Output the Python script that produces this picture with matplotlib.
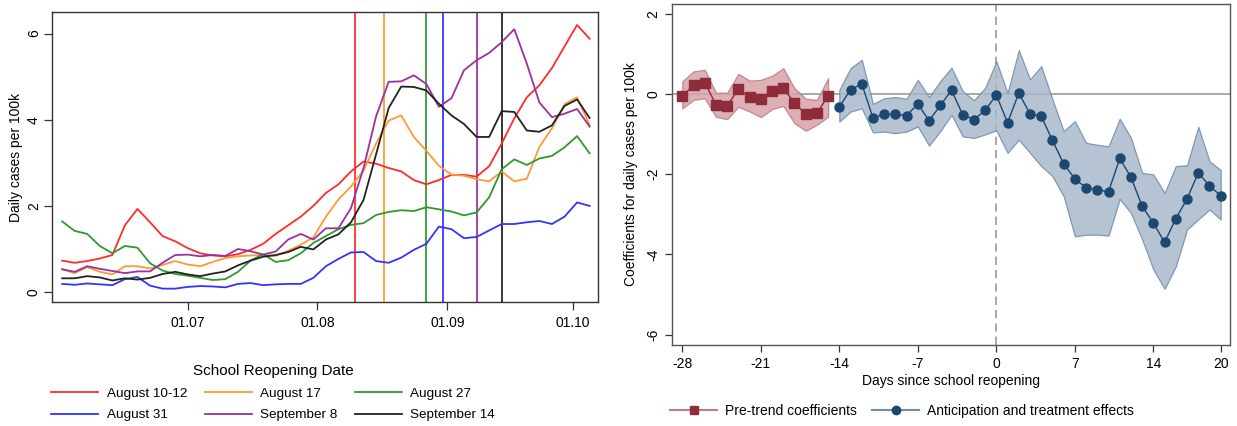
import pandas as pd
import matplotlib
matplotlib.use("Agg")
import matplotlib.pyplot as plt
import matplotlib.dates as mdates
from matplotlib.lines import Line2D

plt.rcParams["font.family"] = ["Liberation Sans", "DejaVu Sans"]
plt.rcParams["font.size"] = 10

# --- left panel: daily cases by reopening cohort (every third day from 1 June) ---
dates = pd.date_range("2020-06-01", periods=43, freq="3D")

cases_aug10 = [0.73, 0.68, 0.72, 0.78, 0.86, 1.55, 1.93, 1.62, 1.30, 1.18, 1.02, 0.90, 0.85, 0.83,
               0.88, 0.98, 1.12, 1.35, 1.55, 1.75, 2.00, 2.30, 2.50, 2.80, 3.03, 2.98, 2.88, 2.80,
               2.60, 2.50, 2.60, 2.72, 2.72, 2.68, 2.92, 3.45, 4.03, 4.52, 4.80, 5.20, 5.70, 6.20, 5.88]
cases_aug17 = [0.53, 0.44, 0.58, 0.47, 0.41, 0.60, 0.60, 0.55, 0.63, 0.72, 0.64, 0.60, 0.70, 0.79,
               0.83, 0.85, 0.86, 0.84, 0.96, 1.10, 1.27, 1.75, 2.15, 2.45, 2.82, 3.45, 3.98, 4.10,
               3.60, 3.28, 2.93, 2.73, 2.70, 2.62, 2.57, 2.80, 2.57, 2.63, 3.37, 3.80, 4.36, 4.52, 3.88]
cases_aug27 = [1.64, 1.42, 1.35, 1.07, 0.90, 1.07, 1.03, 0.67, 0.50, 0.42, 0.38, 0.33, 0.28, 0.30,
               0.47, 0.73, 0.88, 0.70, 0.74, 0.90, 1.14, 1.30, 1.46, 1.56, 1.60, 1.79, 1.86, 1.90,
               1.88, 1.97, 1.92, 1.87, 1.78, 1.85, 2.20, 2.85, 3.08, 2.95, 3.10, 3.16, 3.36, 3.62, 3.22]
cases_aug31 = [0.19, 0.17, 0.20, 0.18, 0.16, 0.30, 0.35, 0.15, 0.08, 0.08, 0.12, 0.14, 0.13, 0.11,
               0.19, 0.21, 0.16, 0.18, 0.19, 0.19, 0.33, 0.60, 0.77, 0.92, 0.93, 0.72, 0.68, 0.80,
               0.98, 1.12, 1.52, 1.46, 1.25, 1.28, 1.43, 1.58, 1.58, 1.62, 1.65, 1.58, 1.75, 2.08, 2.00]
cases_sep8 = [0.53, 0.47, 0.60, 0.54, 0.49, 0.44, 0.48, 0.48, 0.68, 0.86, 0.87, 0.83, 0.86, 0.84,
              1.00, 0.95, 0.87, 0.94, 1.22, 1.35, 1.22, 1.48, 1.48, 1.95, 2.88, 4.08, 4.88, 4.89,
              5.03, 4.83, 4.30, 4.50, 5.15, 5.38, 5.55, 5.80, 6.10, 5.30, 4.40, 4.06, 4.14, 4.25, 3.84]
cases_sep14 = [0.32, 0.32, 0.37, 0.34, 0.27, 0.32, 0.29, 0.33, 0.42, 0.47, 0.41, 0.37, 0.43, 0.48,
               0.62, 0.73, 0.82, 0.86, 0.93, 1.05, 0.99, 1.22, 1.34, 1.62, 2.14, 3.20, 4.27, 4.77,
               4.76, 4.68, 4.37, 4.10, 3.90, 3.60, 3.60, 4.20, 4.18, 3.75, 3.72, 3.87, 4.32, 4.47, 4.04]

cohort_labels = ["August 10-12", "August 17", "August 27", "August 31", "September 8", "September 14"]
reopen_dates = ["2020-08-10", "2020-08-17", "2020-08-27", "2020-08-31", "2020-09-08", "2020-09-14"]
cohort_colors = ["#ff2b2b", "#ff9a33", "#2e9a2e", "#3333ff", "#9b30a0", "#222222"]

# --- right panel: event-study coefficients ---
pre_days = [-28, -27, -26, -25, -24, -23, -22, -21, -20, -19, -18, -17, -16, -15]
pre_coef = [-0.05, 0.21, 0.28, -0.27, -0.30, 0.12, -0.08, -0.12, 0.08, 0.14, -0.22, -0.51, -0.48, -0.05]
pre_hi = [0.31, 0.56, 0.60, 0.03, 0.03, 0.50, 0.33, 0.35, 0.45, 0.64, 0.14, -0.12, -0.15, 0.39]
pre_lo = [-0.36, -0.15, -0.11, -0.57, -0.63, -0.32, -0.44, -0.58, -0.38, -0.30, -0.73, -0.92, -0.77, -0.57]

post_days = [-14, -13, -12, -11, -10, -9, -8, -7, -6, -5, -4, -3, -2, -1, 0, 1, 2, 3, 4, 5, 6, 7,
             8, 9, 10, 11, 12, 13, 14, 15, 16, 17, 18, 19, 20]
post_coef = [-0.32, 0.10, 0.25, -0.60, -0.51, -0.51, -0.54, -0.25, -0.67, -0.29, 0.09, -0.52, -0.64,
             -0.41, -0.03, -0.72, 0.02, -0.50, -0.56, -1.16, -1.74, -2.12, -2.34, -2.39, -2.44,
             -1.61, -2.08, -2.80, -3.22, -3.70, -3.11, -2.62, -1.97, -2.29, -2.54]
post_hi = [0.10, 0.64, 0.85, -0.25, -0.11, -0.08, -0.12, 0.35, -0.08, 0.32, 0.65, 0.07, -0.16, 0.15,
           0.81, 0.02, 1.09, 0.36, 0.69, -0.14, -0.93, -0.68, -1.22, -1.27, -1.31, -0.62, -1.10,
           -1.97, -2.01, -2.47, -1.80, -1.78, -0.82, -1.68, -1.90]
post_lo = [-0.69, -0.44, -0.36, -0.96, -0.94, -0.98, -0.94, -0.81, -1.29, -0.93, -0.52, -1.06, -1.10,
           -1.01, -0.91, -1.47, -1.14, -1.47, -1.80, -2.05, -2.55, -3.55, -3.51, -3.51, -3.53,
           -2.62, -2.97, -3.63, -4.38, -4.86, -4.30, -3.38, -3.13, -2.88, -3.13]

W, H = 1237, 426
fig = plt.figure(figsize=(W / 100, H / 100), dpi=100)

# ---------------- left panel ----------------
ax1 = fig.add_axes([52 / W, 1 - 302 / H, 546 / W, 290 / H])
for d, c in zip(reopen_dates, cohort_colors):
    ax1.axvline(pd.Timestamp(d), color=c, lw=1.4, alpha=0.9, zorder=1)

series = [cases_aug10, cases_aug17, cases_aug27, cases_aug31, cases_sep8, cases_sep14]
handles = []
for vals, c, lab in zip(series, cohort_colors, cohort_labels):
    h, = ax1.plot(dates, vals, color=c, lw=1.3, label=lab, zorder=2)
    handles.append(h)

ax1.set_xlim(pd.Timestamp("2020-05-29 14:00"), pd.Timestamp("2020-10-07"))
ax1.set_ylim(-0.23, 6.5)
ax1.set_yticks([0, 2, 4, 6])
ax1.set_xticks(pd.to_datetime(["2020-07-01", "2020-08-01", "2020-09-01", "2020-10-01"]))
ax1.xaxis.set_major_formatter(mdates.DateFormatter("%d.%m"))
ax1.tick_params(axis="both", direction="out", length=6, width=0.9, color="#333333", labelsize=10)
ax1.tick_params(axis="x", pad=4)
ax1.tick_params(axis="y", pad=2)
for lbl in ax1.get_yticklabels():
    lbl.set_rotation(90)
    lbl.set_va("center")
for sp in ax1.spines.values():
    sp.set_color("#333333")
    sp.set_linewidth(1.0)
ax1.set_ylabel("Daily cases per 100k", fontsize=10, labelpad=3)

order = [0, 3, 1, 4, 2, 5]
leg1 = fig.legend([handles[i] for i in order], [cohort_labels[i] for i in order],
                  ncol=3, title="School Reopening Date", title_fontsize=11, fontsize=9.7,
                  loc="upper center", bbox_to_anchor=(273 / W, 1 - 364 / H), frameon=False,
                  handlelength=3.5, handletextpad=0.6, columnspacing=1.3, labelspacing=0.65,
                  borderpad=0, borderaxespad=0)
leg1._legend_box.sep = 7

# ---------------- right panel ----------------
ax2 = fig.add_axes([672 / W, 1 - 345 / H, 558 / W, 341 / H])
red_dark, red_band, red_edge = "#8e2c39", "#d6a3a8", "#bd7c84"
blue_dark, blue_band, blue_edge = "#1c4770", "#a9b9cc", "#6f8dac"

ax2.axhline(0, color="#9a9a9a", lw=1.2, zorder=1)
ax2.axvline(0, color="#9a9a9a", lw=1.2, ls=(0, (5, 3)), zorder=1)

ax2.fill_between(pre_days, pre_lo, pre_hi, facecolor=red_band, edgecolor=red_edge, lw=0.9,
                 alpha=0.85, zorder=2)
ax2.fill_between(post_days, post_lo, post_hi, facecolor=blue_band, edgecolor=blue_edge, lw=0.9,
                 alpha=0.85, zorder=2)
ax2.plot(pre_days, pre_coef, color=red_dark, lw=1.0, marker="s", ms=6.5, zorder=3)
ax2.plot(post_days, post_coef, color=blue_dark, lw=1.0, marker="o", ms=6.5, zorder=3)

ax2.set_xlim(-28.92, 20.83)
ax2.set_ylim(-6.26, 2.24)
ax2.set_xticks([-28, -21, -14, -7, 0, 7, 14, 20])
ax2.set_yticks([-6, -4, -2, 0, 2])
ax2.set_yticklabels(["-6", "-4", "-2", "0", "2"])
ax2.set_xticklabels(["-28", "-21", "-14", "-7", "0", "7", "14", "20"])
ax2.tick_params(axis="both", direction="out", length=5, width=0.9, color="#333333", labelsize=10)
for lbl in ax2.get_yticklabels():
    lbl.set_rotation(90)
    lbl.set_va("center")
for sp in ax2.spines.values():
    sp.set_color("#555555")
    sp.set_linewidth(1.0)
ax2.set_ylabel("Coefficients for daily cases per 100k", fontsize=10, labelpad=6)
ax2.set_xlabel("Days since school reopening", fontsize=10, labelpad=2)

leg_handles = [
    Line2D([], [], color=red_edge, lw=1.5, marker="s", ms=6, markerfacecolor=red_dark,
           markeredgecolor=red_dark),
    Line2D([], [], color=blue_edge, lw=1.5, marker="o", ms=6, markerfacecolor=blue_dark,
           markeredgecolor=blue_dark),
]
fig.legend(leg_handles, ["Pre-trend coefficients", "Anticipation and treatment effects"],
           ncol=2, loc="center", bbox_to_anchor=(902 / W, 1 - 411 / H), frameon=False,
           fontsize=10, handlelength=3.4, handletextpad=0.55, columnspacing=1.1,
           borderpad=0, borderaxespad=0)

fig.savefig("out.png", dpi=100)
